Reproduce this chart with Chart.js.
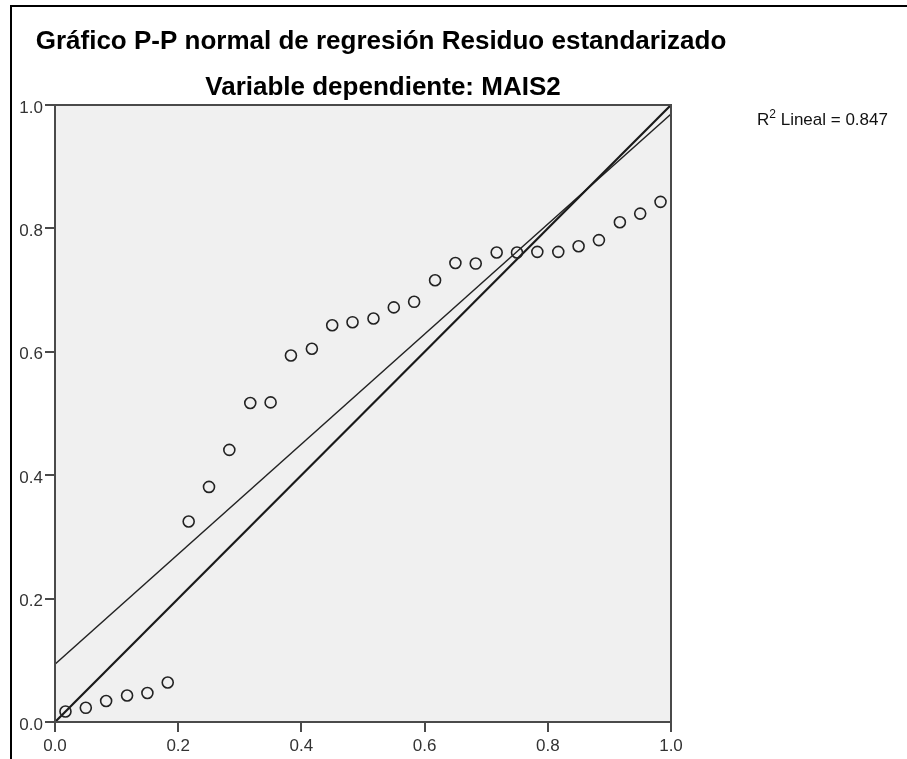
<!DOCTYPE html>
<html>
<head>
<meta charset="utf-8">
<script src="https://cdn.jsdelivr.net/npm/chart.js@4"></script>
<style>
  html, body { margin: 0; padding: 0; background: #fff; }
  canvas { display: block; }
</style>
</head>
<body>
<canvas id="pp" width="907" height="759"></canvas>
<script>
// Expected cumulative probability (x) vs observed cumulative probability (y)
const expectedProb = [0.017, 0.050, 0.083, 0.117, 0.150, 0.183, 0.217, 0.250, 0.283, 0.317,
                      0.350, 0.383, 0.417, 0.450, 0.483, 0.517, 0.550, 0.583, 0.617, 0.650,
                      0.683, 0.717, 0.750, 0.783, 0.817, 0.850, 0.883, 0.917, 0.950, 0.983];
const observedProb = [0.017, 0.023, 0.034, 0.043, 0.047, 0.064, 0.325, 0.381, 0.441, 0.517,
                      0.518, 0.594, 0.605, 0.643, 0.648, 0.654, 0.672, 0.681, 0.716, 0.744,
                      0.743, 0.761, 0.761, 0.762, 0.762, 0.771, 0.781, 0.810, 0.824, 0.843];
const tickValues = [0.0, 0.2, 0.4, 0.6, 0.8, 1.0];
const diagonal = [0, 1];
const titleText = 'Gráfico P-P normal de regresión Residuo estandarizado';
const subtitleText = 'Variable dependiente: MAIS2';
const r2Value = '0.847';

// Least-squares fit of observed on expected
function linearFit(xs, ys) {
  const n = xs.length;
  const mx = xs.reduce((a, b) => a + b, 0) / n;
  const my = ys.reduce((a, b) => a + b, 0) / n;
  let sxy = 0, sxx = 0;
  for (let i = 0; i < n; i++) {
    sxy += (xs[i] - mx) * (ys[i] - my);
    sxx += (xs[i] - mx) * (xs[i] - mx);
  }
  const slope = sxy / sxx;
  return { slope, intercept: my - slope * mx };
}
const fit = linearFit(expectedProb, observedProb);

const points = expectedProb.map((x, i) => ({ x, y: observedProb[i] }));
const diagonalLine = diagonal.map(v => ({ x: v, y: v }));
const fitLine = diagonal.map(x => ({ x, y: fit.intercept + fit.slope * x }));

const FONT = '"Liberation Sans", Arial, sans-serif';

const chrome = {
  id: 'chrome',
  beforeDraw(chart) {
    const { ctx, chartArea: a } = chart;
    ctx.save();
    ctx.fillStyle = '#ffffff';
    ctx.fillRect(0, 0, chart.width, chart.height);
    // outer frame (top and left edges)
    ctx.strokeStyle = '#000';
    ctx.lineWidth = 2;
    ctx.beginPath();
    ctx.moveTo(11, chart.height);
    ctx.lineTo(11, 6);
    ctx.lineTo(chart.width, 6);
    ctx.stroke();
    // plot background
    ctx.fillStyle = '#f0f0f0';
    ctx.fillRect(a.left, a.top, a.right - a.left, a.bottom - a.top);
    ctx.restore();
  },
  afterDatasetsDraw(chart) {
    const { ctx, chartArea: a } = chart;
    ctx.save();
    ctx.strokeStyle = '#4a4a4a';
    ctx.lineWidth = 2;
    ctx.strokeRect(a.left, a.top, a.right - a.left, a.bottom - a.top);
    ctx.restore();
  },
  afterDraw(chart) {
    const { ctx } = chart;
    ctx.save();
    ctx.fillStyle = '#000';
    ctx.textAlign = 'center';
    ctx.textBaseline = 'alphabetic';
    ctx.font = 'bold 26px ' + FONT;
    ctx.fillText(titleText, 381, 49);
    ctx.fillText(subtitleText, 383, 95);
    // R² annotation
    ctx.textAlign = 'left';
    ctx.fillStyle = '#111';
    ctx.font = '17px ' + FONT;
    let x = 757;
    ctx.fillText('R', x, 125);
    x += ctx.measureText('R').width;
    ctx.font = '12px ' + FONT;
    ctx.fillText('2', x, 118);
    x += ctx.measureText('2').width;
    ctx.font = '17px ' + FONT;
    ctx.fillText(' Lineal = ' + r2Value, x, 125);
    ctx.restore();
  }
};

const setTicks = scale => { scale.ticks = tickValues.map(v => ({ value: v })); };
const tickFont = { family: FONT, size: 17 };

new Chart(document.getElementById('pp'), {
  type: 'scatter',
  data: {
    datasets: [
      {
        label: 'Observado',
        data: points,
        pointStyle: 'circle',
        pointRadius: 5.5,
        pointHoverRadius: 5.5,
        borderColor: '#222',
        borderWidth: 1.6,
        backgroundColor: 'rgba(0,0,0,0)',
        order: 0
      },
      {
        label: 'Diagonal',
        data: diagonalLine,
        showLine: true,
        pointRadius: 0,
        borderColor: '#1a1a1a',
        borderWidth: 2.2,
        order: 1
      },
      {
        label: 'Ajuste lineal',
        data: fitLine,
        showLine: true,
        pointRadius: 0,
        borderColor: '#222',
        borderWidth: 1.3,
        order: 1
      }
    ]
  },
  options: {
    responsive: false,
    animation: false,
    events: [],
    layout: { padding: { top: 105, right: 236, bottom: 0, left: 0 } },
    plugins: {
      legend: { display: false },
      title: { display: false },
      tooltip: { enabled: false }
    },
    scales: {
      x: {
        type: 'linear',
        min: 0,
        max: 1,
        afterBuildTicks: setTicks,
        afterFit: s => { s.height = 37; },
        border: { display: false },
        grid: { drawOnChartArea: false, drawTicks: true, tickLength: 10, color: '#4a4a4a', lineWidth: 2 },
        ticks: { font: tickFont, color: '#333', padding: 4, maxRotation: 0,
                 callback: v => Number(v).toFixed(1) }
      },
      y: {
        type: 'linear',
        min: 0,
        max: 1,
        afterBuildTicks: setTicks,
        afterFit: s => { s.width = 55; },
        border: { display: false },
        grid: { drawOnChartArea: false, drawTicks: true, tickLength: 10, color: '#4a4a4a', lineWidth: 2 },
        ticks: { font: tickFont, color: '#333', padding: 2, labelOffset: 3,
                 callback: v => Number(v).toFixed(1) }
      }
    }
  },
  plugins: [chrome]
});
</script>
</body>
</html>
